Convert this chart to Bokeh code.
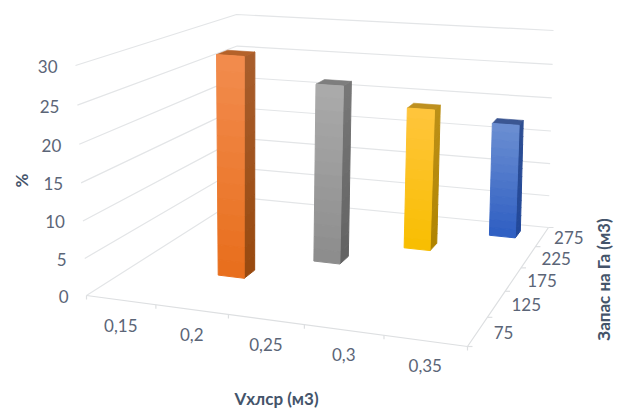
import numpy as np
from bokeh.core.properties import value
from bokeh.embed import file_html
from bokeh.models import Range1d
from bokeh.plotting import figure
from bokeh.resources import INLINE

# Chart data
volume_labels = ["0,15", "0,2", "0,25", "0,3", "0,35"]
stock_labels = ["75", "125", "175", "225", "275"]
percent_ticks = [0, 5, 10, 15, 20, 25, 30]
bar_volume = ["0,2", "0,25", "0,3", "0,35"]
bar_stock = ["125", "175", "225", "275"]
bar_percent = [30.0, 25.0, 20.5, 17.0]

# Face colours of each bar: front gradient (top, bottom), side gradient, cap
front_top = ["#F28C4E", "#ABABAB", "#FFC53D", "#6C8FD2"]
front_bottom = ["#E86E1C", "#8C8C8C", "#F8BE00", "#2E5EC2"]
side_top = ["#A95E2C", "#787878", "#BC9018", "#2D4E92"]
side_bottom = ["#98490F", "#626262", "#B08400", "#22489A"]
cap_colour = ["#B4622A", "#7E7E7E", "#BE9020", "#3B5692"]

GRID = "#E3E5E7"
TICK_TEXT = "#5B6577"
TITLE_TEXT = "#44546A"
FONT = value("Lato")
PCT_MAX = 30
BAR_HALF_U = 0.038
BAR_HALF_V = 0.036
BAR_SHIFT_U = -0.009


def homography(corners):
    """Plane mapping from the unit square (u, v) to the given screen corners."""
    unit = [(0, 0), (1, 0), (1, 1), (0, 1)]
    rows, rhs = [], []
    for (u, v), (x, y) in zip(unit, corners):
        rows.append([u, v, 1, 0, 0, 0, -u * x, -v * x])
        rows.append([0, 0, 0, u, v, 1, -u * y, -v * y])
        rhs += [x, y]
    return np.append(np.linalg.solve(np.array(rows, float), np.array(rhs, float)), 1).reshape(3, 3)


# Scene frame: floor and ceiling corners of the 3D box
FLOOR = homography([(86, 295), (467, 346), (548, 227), (240, 197)])
CEIL = homography([(75, 65), (503, 98), (553, 30), (236, 14)])


def project(u, v, pct):
    f = FLOOR @ np.array([u, v, 1.0])
    c = CEIL @ np.array([u, v, 1.0])
    f, c = f[:2] / f[2], c[:2] / c[2]
    w = pct / PCT_MAX
    t = w * 0.96 / (1 - w + w * 0.96)
    return f + (c - f) * t


def centre(labels, label):
    return (labels.index(label) + 0.5) / len(labels)


p = figure(width=622, height=408, output_backend="svg", toolbar_location=None,
           x_range=Range1d(0, 622), y_range=Range1d(408, 0), min_border=0,
           background_fill_color="white", outline_line_color=None)
p.axis.visible = False
p.grid.visible = False

# Walls: one gridline per percent tick on the left and back walls
for pct in percent_ticks:
    a, b, c = project(0, 0, pct), project(0, 1, pct), project(1, 1, pct)
    p.line([a[0], b[0], c[0]], [a[1], b[1], c[1]], line_color=GRID, line_width=1.2)
    p.text([a[0] - 18], [a[1] + 1], text=[str(pct)], text_font=FONT, text_font_size="17px",
           text_color=TICK_TEXT, text_align="right", text_baseline="middle")

# Floor edges with their tick marks and labels
e = [project(0, 0, 0), project(1, 0, 0), project(1, 1, 0)]
p.line([q[0] for q in e], [q[1] for q in e], line_color="#DDDFE1", line_width=1.2)
for i in range(len(volume_labels) + 1):
    q = project(i / len(volume_labels), 0, 0)
    p.segment([q[0]], [q[1]], [q[0]], [q[1] + 4], line_color="#DDDFE1", line_width=1.2)
for i in range(len(stock_labels) + 1):
    q = project(1, i / len(stock_labels), 0)
    p.segment([q[0]], [q[1]], [q[0] + 5], [q[1]], line_color="#DDDFE1", line_width=1.2)
for label in volume_labels:
    q = project(centre(volume_labels, label), 0, 0)
    p.text([q[0]], [q[1] + 25], text=[label], text_font=FONT, text_font_size="17px",
           text_color=TICK_TEXT, text_align="center", text_baseline="middle")
for i, label in enumerate(stock_labels):
    q = project(1, centre(stock_labels, label), 0)
    p.text([q[0] + 16 - i], [q[1] + 1], text=[label], text_font=FONT, text_font_size="17px",
           text_color=TICK_TEXT, text_align="left", text_baseline="middle")


def mix(c1, c2, t):
    a = [int(c1[i:i + 2], 16) for i in (1, 3, 5)]
    b = [int(c2[i:i + 2], 16) for i in (1, 3, 5)]
    return "#%02x%02x%02x" % tuple(round(x + (y - x) * t) for x, y in zip(a, b))


def shaded_face(p0, p1, pct, c_top, c_bottom, bands=14):
    """Vertical face between floor points p0 and p1, filled as graded bands."""
    xs, ys, cols = [], [], []
    for k in range(bands):
        hi = pct * (1 - k / bands)
        lo = pct * (1 - (k + 1) / bands)
        quad = [project(*p0, hi), project(*p1, hi), project(*p1, lo), project(*p0, lo)]
        xs.append([q[0] for q in quad])
        ys.append([q[1] for q in quad])
        cols.append(mix(c_top, c_bottom, (k + 0.5) / bands))
    p.patches(xs, ys, fill_color=cols, line_color=cols, line_width=1)


# Bars, back to front
for i in reversed(range(len(bar_percent))):
    u = centre(volume_labels, bar_volume[i]) + BAR_SHIFT_U
    v = centre(stock_labels, bar_stock[i])
    pct = bar_percent[i]
    fl, fr = (u - BAR_HALF_U, v - BAR_HALF_V), (u + BAR_HALF_U, v - BAR_HALF_V)
    br, bl = (u + BAR_HALF_U, v + BAR_HALF_V), (u - BAR_HALF_U, v + BAR_HALF_V)
    shaded_face(fr, br, pct, side_top[i], side_bottom[i])
    cap = [project(*c, pct) for c in (fl, fr, br, bl)]
    p.patch([q[0] for q in cap], [q[1] for q in cap], fill_color=cap_colour[i], line_color=cap_colour[i], line_width=0.6)
    shaded_face(fl, fr, pct, front_top[i], front_bottom[i])

# Axis titles
p.text([21], [180], text=["%"], angle=np.pi / 2, text_font=FONT, text_font_style="bold",
       text_font_size="17px", text_color=TITLE_TEXT, text_align="center", text_baseline="middle")
p.text([276], [398], text=["Vхлср (м3)"], text_font=FONT, text_font_style="bold",
       text_font_size="17px", text_color=TITLE_TEXT, text_align="center", text_baseline="middle")
p.text([603], [279], text=["Запас на Га (м3)"], angle=np.pi / 2, text_font=FONT, text_font_style="bold",
       text_font_size="17px", text_color=TITLE_TEXT, text_align="center", text_baseline="middle")

open("out.html", "w").write(file_html(p, INLINE))
